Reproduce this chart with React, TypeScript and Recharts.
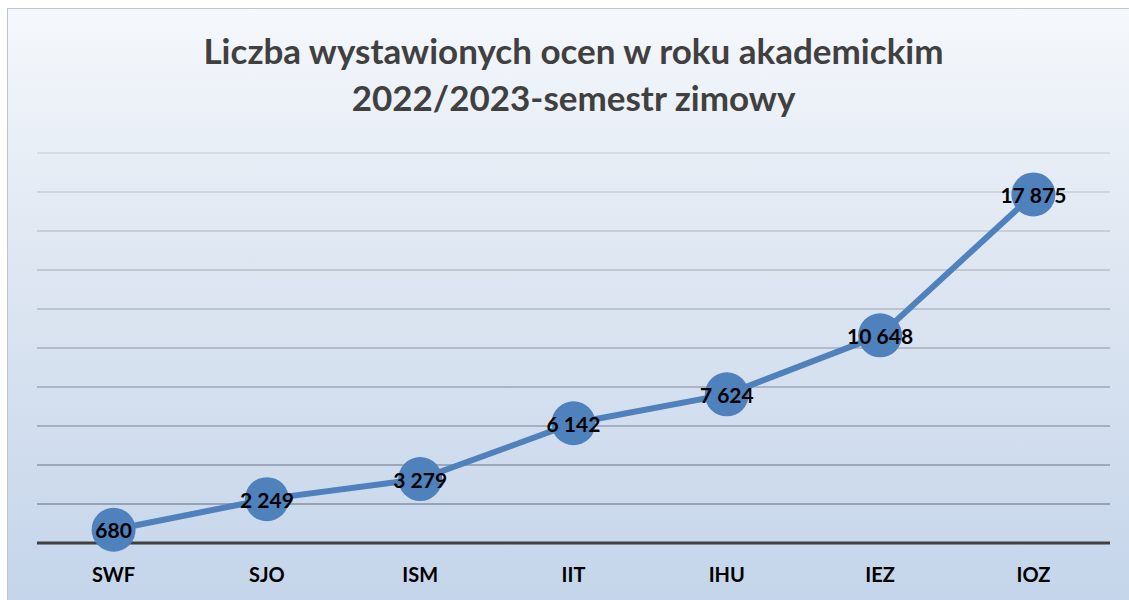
import React from 'react';
import { LineChart, Line, XAxis, YAxis, CartesianGrid, LabelList } from 'recharts';

// Data
const categories = ['SWF', 'SJO', 'ISM', 'IIT', 'IHU', 'IEZ', 'IOZ'];
const grades = [680, 2249, 3279, 6142, 7624, 10648, 17875];
const yTicks = [0, 2000, 4000, 6000, 8000, 10000, 12000, 14000, 16000, 18000, 20000];
const titleLines = [
  'Liczba wystawionych ocen w roku akademickim',
  '2022/2023-semestr zimowy',
];

const data = categories.map((name, i) => ({ name, value: grades[i] }));

const fmt = (v: number) => String(v).replace(/\B(?=(\d{3})+(?!\d))/g, ' ');

const FONT = 'Lato, "Open Sans", sans-serif';

const ValueLabel = (props: any) => {
  const { x, y, value } = props;
  return (
    <text
      x={x}
      y={y}
      textAnchor="middle"
      dominantBaseline="central"
      fontFamily={FONT}
      fontWeight={700}
      fontSize={21}
      fill="#000"
    >
      {fmt(value)}
    </text>
  );
};

export default function App() {
  return (
    <div style={{ position: 'absolute', left: 0, top: 0, width: 1129, height: 600, overflow: 'hidden', background: '#fff' }}>
      <div
        style={{
          position: 'absolute',
          left: 7,
          top: 8,
          width: 1140,
          height: 610,
          border: '1px solid #c4c4c4',
          background: 'linear-gradient(to bottom, #f5f8fc 0%, #dfe7f2 40%, #c3d4ea 100%)',
        }}
      />
      <div
        style={{
          position: 'absolute',
          left: 0,
          top: 27,
          width: 1147,
          textAlign: 'center',
          fontFamily: FONT,
          fontWeight: 700,
          fontSize: 35,
          lineHeight: '47px',
          color: '#404040',
        }}
      >
        {titleLines.map((t) => (
          <div key={t}>{t}</div>
        ))}
      </div>
      <div style={{ position: 'absolute', left: 0, top: 0 }}>
        <LineChart
          width={1129}
          height={600}
          data={data}
          margin={{ top: 153, right: 19, bottom: 27, left: 37 }}
        >
          <defs>
            <linearGradient id="gridGrad" x1="0" y1="150" x2="0" y2="545" gradientUnits="userSpaceOnUse">
              <stop offset="0%" stopColor="#d2d6dc" />
              <stop offset="100%" stopColor="#7a889c" />
            </linearGradient>
          </defs>
          <CartesianGrid vertical={false} stroke="url(#gridGrad)" strokeWidth={1.5} />
          <XAxis
            dataKey="name"
            height={30}
            padding={{ left: 76.6, right: 76.6 }}
            axisLine={{ stroke: '#404040', strokeWidth: 3 }}
            tickLine={false}
            tick={{ fill: '#000', fontSize: 20, fontWeight: 700, fontFamily: FONT }}
            tickMargin={19}
          />
          <YAxis hide domain={[0, 20000]} ticks={yTicks} width={0} />
          <Line
            dataKey="value"
            stroke="#4f81bd"
            strokeWidth={6}
            dot={{ r: 22, fill: '#4f81bd', stroke: 'none' }}
            isAnimationActive={false}
          >
            <LabelList dataKey="value" content={ValueLabel} />
          </Line>
        </LineChart>
      </div>
    </div>
  );
}
